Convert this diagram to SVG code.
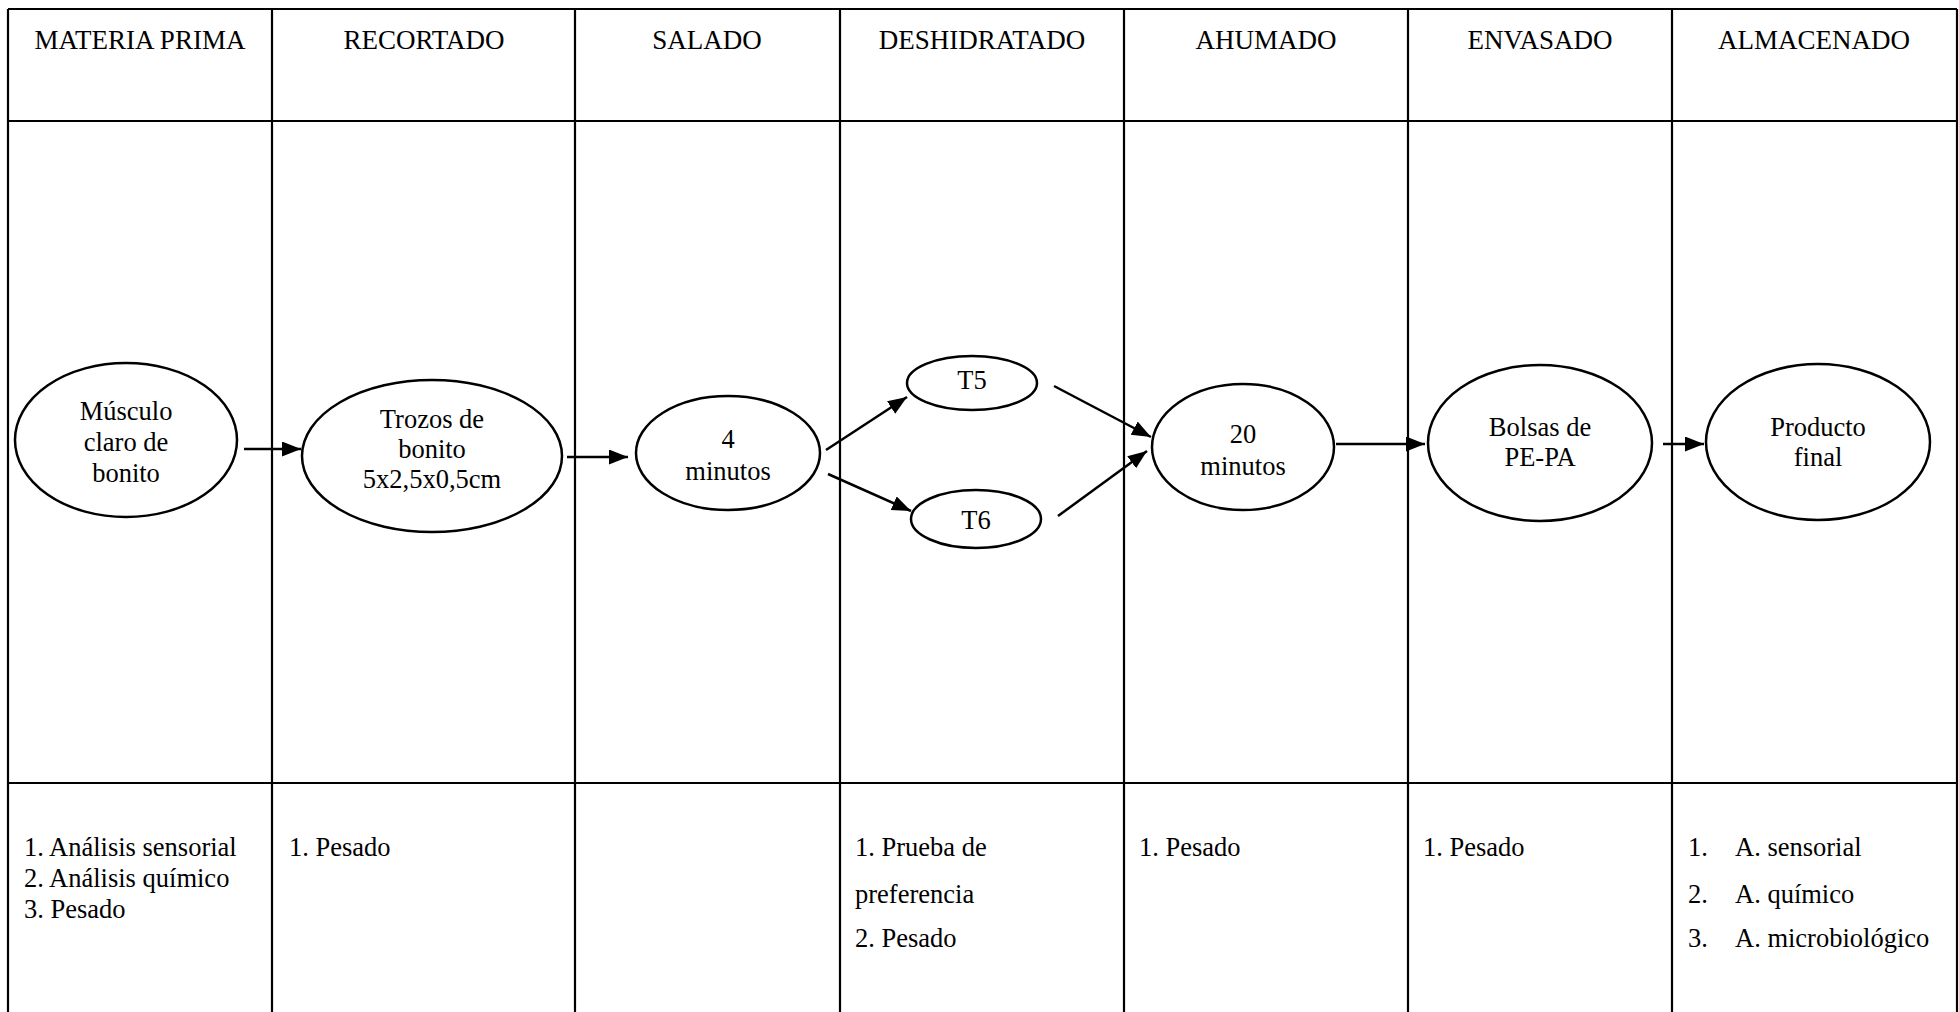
<svg xmlns="http://www.w3.org/2000/svg" width="1959" height="1012" viewBox="0 0 1959 1012">
  <style>
    .grid { stroke: #000; stroke-width: 2.2; fill: none; }
    .node ellipse { fill: #fff; stroke: #000; stroke-width: 2.5; }
    text { font-family: "Liberation Serif", "Times New Roman", serif; fill: #000; }
    .hd { font-size: 27px; text-anchor: middle; }
    .lb { font-size: 26.5px; text-anchor: middle; }
    .ls { font-size: 26.5px; }
    .edge { stroke: #000; stroke-width: 2.5; fill: none; marker-end: url(#arrow); }
  </style>
  <defs>
    <marker id="arrow" markerUnits="userSpaceOnUse" markerWidth="22" markerHeight="18" refX="19" refY="7.5" orient="auto">
      <path d="M0,0 L19,7.5 L0,15 Z" fill="#000"/>
    </marker>
  </defs>
  <rect x="0" y="0" width="1959" height="1012" fill="#fff"/>

  <!-- table frame -->
  <g id="table" class="grid">
    <line x1="8" y1="9" x2="1957" y2="9"/>
    <line x1="8" y1="121" x2="1957" y2="121"/>
    <line x1="8" y1="783" x2="1957" y2="783"/>
    <line x1="8" y1="9" x2="8" y2="1012"/>
    <line x1="272" y1="9" x2="272" y2="1012"/>
    <line x1="575" y1="9" x2="575" y2="1012"/>
    <line x1="840" y1="9" x2="840" y2="1012"/>
    <line x1="1124" y1="9" x2="1124" y2="1012"/>
    <line x1="1408" y1="9" x2="1408" y2="1012"/>
    <line x1="1672" y1="9" x2="1672" y2="1012"/>
    <line x1="1957" y1="9" x2="1957" y2="1012"/>
  </g>

  <!-- column headings -->
  <g id="headers">
    <text class="hd" x="140" y="49">MATERIA PRIMA</text>
    <text class="hd" x="424" y="49">RECORTADO</text>
    <text class="hd" x="707" y="49">SALADO</text>
    <text class="hd" x="982" y="49">DESHIDRATADO</text>
    <text class="hd" x="1266" y="49">AHUMADO</text>
    <text class="hd" x="1540" y="49">ENVASADO</text>
    <text class="hd" x="1814" y="49">ALMACENADO</text>
  </g>

  <!-- connectors -->
  <g id="connectors">
    <line class="edge" x1="244" y1="449" x2="301" y2="449"/>
    <line class="edge" x1="567" y1="457" x2="628" y2="457"/>
    <line class="edge" x1="826" y1="450" x2="907" y2="397"/>
    <line class="edge" x1="828" y1="474" x2="911" y2="511"/>
    <line class="edge" x1="1054" y1="386" x2="1151" y2="437"/>
    <line class="edge" x1="1058" y1="516" x2="1147" y2="451"/>
    <line class="edge" x1="1336" y1="444" x2="1425" y2="444"/>
    <line class="edge" x1="1663" y1="444" x2="1704" y2="444"/>
  </g>

  <!-- process nodes -->
  <g id="n-musculo" class="node">
    <ellipse cx="126" cy="440" rx="111" ry="77"/>
    <text class="lb" x="126" y="420">Músculo</text>
    <text class="lb" x="126" y="451">claro de</text>
    <text class="lb" x="126" y="482">bonito</text>
  </g>
  <g id="n-trozos" class="node">
    <ellipse cx="432" cy="456" rx="130" ry="76"/>
    <text class="lb" x="432" y="428">Trozos de</text>
    <text class="lb" x="432" y="458">bonito</text>
    <text class="lb" x="432" y="488">5x2,5x0,5cm</text>
  </g>
  <g id="n-salado" class="node">
    <ellipse cx="728" cy="453" rx="92" ry="57"/>
    <text class="lb" x="728" y="448">4</text>
    <text class="lb" x="728" y="480">minutos</text>
  </g>
  <g id="n-t5" class="node">
    <ellipse cx="972" cy="383" rx="65" ry="27"/>
    <text class="lb" x="972" y="389">T5</text>
  </g>
  <g id="n-t6" class="node">
    <ellipse cx="976" cy="519" rx="65" ry="29"/>
    <text class="lb" x="976" y="529">T6</text>
  </g>
  <g id="n-ahumado" class="node">
    <ellipse cx="1243" cy="447" rx="91" ry="63"/>
    <text class="lb" x="1243" y="443">20</text>
    <text class="lb" x="1243" y="475">minutos</text>
  </g>
  <g id="n-bolsas" class="node">
    <ellipse cx="1540" cy="443" rx="112" ry="78"/>
    <text class="lb" x="1540" y="436">Bolsas de</text>
    <text class="lb" x="1540" y="466">PE-PA</text>
  </g>
  <g id="n-producto" class="node">
    <ellipse cx="1818" cy="442" rx="112" ry="78"/>
    <text class="lb" x="1818" y="436">Producto</text>
    <text class="lb" x="1818" y="466">final</text>
  </g>

  <!-- controls per stage -->
  <g id="controls">
    <text class="ls" x="24" y="856">1. Análisis sensorial</text>
    <text class="ls" x="24" y="887">2. Análisis químico</text>
    <text class="ls" x="24" y="918">3. Pesado</text>

    <text class="ls" x="289" y="856">1. Pesado</text>

    <text class="ls" x="855" y="856">1. Prueba de</text>
    <text class="ls" x="855" y="903">preferencia</text>
    <text class="ls" x="855" y="947">2. Pesado</text>

    <text class="ls" x="1139" y="856">1. Pesado</text>

    <text class="ls" x="1423" y="856">1. Pesado</text>

    <text class="ls" x="1688" y="856">1.</text>
    <text class="ls" x="1735" y="856">A. sensorial</text>
    <text class="ls" x="1688" y="903">2.</text>
    <text class="ls" x="1735" y="903">A. químico</text>
    <text class="ls" x="1688" y="947">3.</text>
    <text class="ls" x="1735" y="947">A. microbiológico</text>
  </g>
</svg>
